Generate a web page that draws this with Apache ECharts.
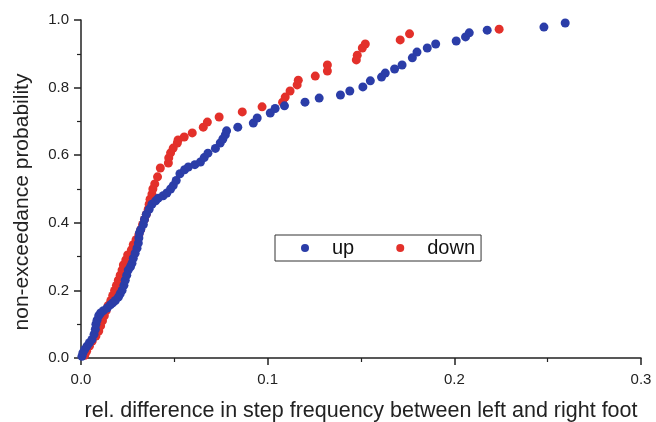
<!DOCTYPE html>
<html>
<head>
<meta charset="utf-8">
<script src="https://cdn.jsdelivr.net/npm/echarts@6/dist/echarts.min.js"></script>
<style>
  html, body { margin: 0; padding: 0; background: #fff; }
  #chartArea { width: 656px; height: 422px; }
</style>
</head>
<body>
<div id="chartArea"></div>
<script>
// up (blue) : x = rel. difference, y = non-exceedance probability
const upX = [0.0005, 0.001, 0.002, 0.0032, 0.0045, 0.0059, 0.007, 0.0077, 0.008, 0.0086,
  0.0095, 0.0105, 0.012, 0.014, 0.0157, 0.017, 0.0184, 0.020, 0.021, 0.022,
  0.023, 0.0237, 0.0245, 0.0253, 0.0265, 0.0273, 0.028, 0.029, 0.030, 0.0307,
  0.031, 0.0313, 0.032, 0.0334, 0.034, 0.035, 0.0365, 0.038, 0.040, 0.0414,
  0.044, 0.046, 0.048, 0.0494, 0.051, 0.053, 0.0555, 0.0575, 0.061, 0.064,
  0.066, 0.068, 0.072, 0.0746, 0.076, 0.0773, 0.078, 0.084, 0.0923, 0.0944,
  0.1014, 0.104, 0.109, 0.120, 0.1276, 0.139, 0.144, 0.151, 0.155, 0.161,
  0.163, 0.168, 0.172, 0.1775, 0.180, 0.1855, 0.190, 0.201, 0.206, 0.208,
  0.2176, 0.248, 0.2594];
const upY = [0.005, 0.015, 0.025, 0.035, 0.045, 0.055, 0.07, 0.085, 0.10, 0.112,
  0.125, 0.133, 0.14, 0.148, 0.157, 0.163, 0.17, 0.18, 0.19, 0.20,
  0.215, 0.23, 0.245, 0.26, 0.27, 0.28, 0.295, 0.31, 0.325, 0.34,
  0.355, 0.37, 0.38, 0.395, 0.41, 0.425, 0.44, 0.455, 0.465, 0.473,
  0.48, 0.488, 0.50, 0.51, 0.525, 0.545, 0.557, 0.565, 0.572, 0.58,
  0.593, 0.606, 0.62, 0.636, 0.648, 0.66, 0.672, 0.683, 0.695, 0.71,
  0.725, 0.738, 0.746, 0.757, 0.769, 0.778, 0.79, 0.802, 0.82, 0.831,
  0.843, 0.855, 0.867, 0.888, 0.905, 0.917, 0.929, 0.938, 0.95, 0.962,
  0.97, 0.979, 0.991];

// down (red)
const downX = [0.002, 0.003, 0.0045, 0.006, 0.008, 0.0095, 0.0105, 0.0115, 0.0125, 0.0135,
  0.0145, 0.016, 0.017, 0.018, 0.019, 0.020, 0.021, 0.022, 0.0227, 0.024,
  0.025, 0.027, 0.028, 0.0295, 0.031, 0.032, 0.033, 0.034, 0.035, 0.036,
  0.0365, 0.037, 0.038, 0.0385, 0.0395, 0.041, 0.0425, 0.0468, 0.047, 0.048,
  0.0494, 0.0516, 0.052, 0.0553, 0.0596, 0.0655, 0.0677, 0.074, 0.0864, 0.097,
  0.108, 0.1094, 0.112, 0.1158, 0.1164, 0.1255, 0.132, 0.132, 0.1475, 0.148,
  0.1507, 0.1523, 0.171, 0.176, 0.224];
const downY = [0.008, 0.02, 0.035, 0.05, 0.065, 0.08, 0.095, 0.11, 0.125, 0.14,
  0.155, 0.17, 0.185, 0.20, 0.215, 0.23, 0.245, 0.26, 0.275, 0.29,
  0.305, 0.32, 0.335, 0.35, 0.365, 0.38, 0.395, 0.41, 0.425, 0.44,
  0.455, 0.47, 0.485, 0.50, 0.515, 0.536, 0.562, 0.577, 0.592, 0.607,
  0.621, 0.636, 0.645, 0.654, 0.666, 0.683, 0.698, 0.713, 0.728, 0.743,
  0.757, 0.772, 0.79, 0.808, 0.822, 0.834, 0.849, 0.867, 0.882, 0.896,
  0.917, 0.929, 0.941, 0.959, 0.973];

const seriesNames = ['up', 'down'];
const seriesColors = ['#2b3da8', '#e3302a'];

function pairs(xs, ys) {
  return xs.map((x, i) => [x, ys[i]]);
}

const chartDom = document.getElementById('chartArea');
const myChart = echarts.init(chartDom, null, { renderer: 'canvas' });
const font = 'Liberation Sans';

const axisCommon = {
  axisLine: { show: true, lineStyle: { color: '#222', width: 1.5 } },
  axisTick: { show: true, inside: false, length: 7, lineStyle: { color: '#222', width: 1.5 } },
  minorTick: { show: true, splitNumber: 2, length: 4, lineStyle: { color: '#222', width: 1.2 } },
  splitLine: { show: false },
  nameLocation: 'middle'
};

let option = {
  animation: false,
  backgroundColor: '#fff',
  grid: { left: 81, right: 15, top: 20, bottom: 64, containLabel: false, outerBoundsMode: 'none' },
  legend: {
    data: seriesNames,
    left: 275,
    top: 235,
    orient: 'horizontal',
    icon: 'circle',
    itemWidth: 44,
    itemHeight: 8,
    itemGap: 42,
    padding: [3, 6, 3, 26],
    borderColor: '#333',
    borderWidth: 1,
    backgroundColor: '#fff',
    textStyle: { fontFamily: font, fontSize: 20, color: '#111' }
  },
  xAxis: Object.assign({}, axisCommon, {
    type: 'value',
    min: 0,
    max: 0.3,
    interval: 0.1,
    name: 'rel. difference in step frequency between left and right foot',
    nameGap: 42,
    nameTextStyle: { fontFamily: font, fontSize: 21.5, color: '#222' },
    axisLabel: {
      fontFamily: font, fontSize: 15, color: '#222', margin: 14,
      formatter: v => v.toFixed(1)
    }
  }),
  yAxis: Object.assign({}, axisCommon, {
    type: 'value',
    min: 0,
    max: 1,
    interval: 0.2,
    name: 'non-exceedance probability',
    nameGap: 48,
    nameTextStyle: { fontFamily: font, fontSize: 21, color: '#222', padding: [0, 26, 0, 0] },
    axisLabel: {
      fontFamily: font, fontSize: 15, color: '#222', margin: 12,
      formatter: v => v.toFixed(1)
    }
  }),
  series: [
    {
      name: 'down',
      type: 'scatter',
      symbol: 'circle',
      symbolSize: 9,
      itemStyle: { color: seriesColors[1], opacity: 1 },
      data: pairs(downX, downY),
      z: 2
    },
    {
      name: 'up',
      type: 'scatter',
      symbol: 'circle',
      symbolSize: 9,
      itemStyle: { color: seriesColors[0], opacity: 1 },
      data: pairs(upX, upY),
      z: 3
    }
  ]
};

option && myChart.setOption(option);
</script>
</body>
</html>
